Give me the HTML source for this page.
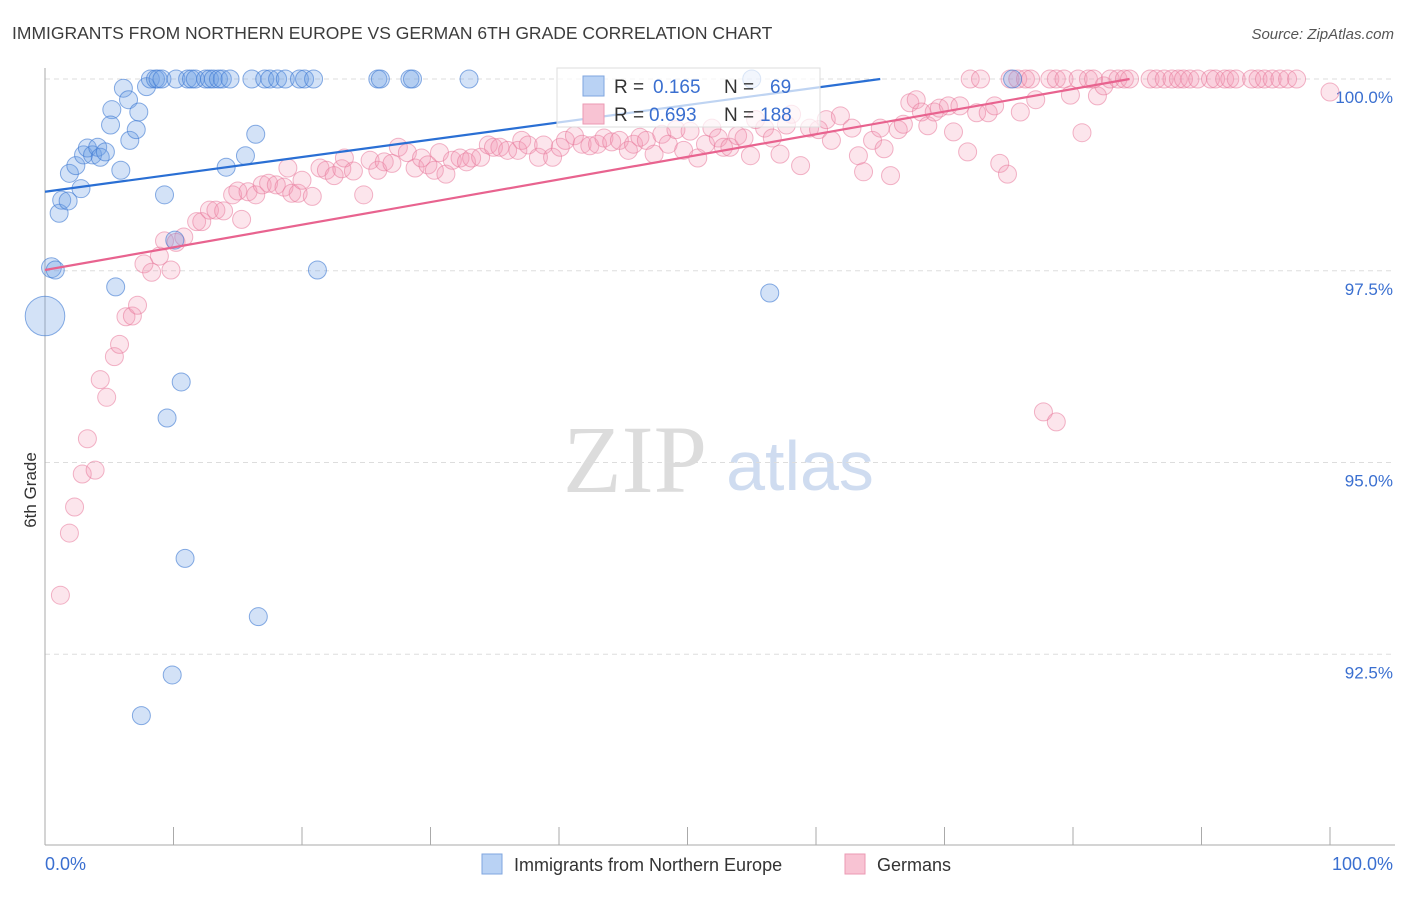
<!DOCTYPE html>
<html><head><meta charset="utf-8"><style>
body{margin:0;background:#fff;font-family:"Liberation Sans",sans-serif}
svg text{font-family:"Liberation Sans",sans-serif}
</style></head><body>
<svg id="c" width="1406" height="892" xmlns="http://www.w3.org/2000/svg">
<text x="12" y="39" font-size="17.5" fill="#3c3c3c">IMMIGRANTS FROM NORTHERN EUROPE VS GERMAN 6TH GRADE CORRELATION CHART</text>
<text x="1394" y="39" font-size="15" fill="#555" text-anchor="end" font-style="italic">Source: ZipAtlas.com</text>
<g>
<text x="635" y="492" font-size="96" fill="#dcdcdc" text-anchor="middle" font-family="Liberation Serif,serif" style="font-family:'Liberation Serif',serif">ZIP</text>
<text x="800" y="490" font-size="70" fill="#cfdcf0" text-anchor="middle">atlas</text>
</g>
<g id="grid"></g>
<g id="axes"></g>
<g id="pts"></g>
<g id="lines"></g>
<text x="-490" y="36" transform="rotate(-90)" font-size="17" fill="#333" text-anchor="middle" transform-origin="0 0">6th Grade</text>
<g>
<rect x="557" y="68" width="263" height="59" fill="#fff" fill-opacity="0.7" stroke="#ddd"/>
<rect x="583" y="76" width="21" height="20" fill="#b9d2f4" stroke="#7fa6df"/>
<rect x="583" y="104" width="21" height="20" fill="#f8c3d3" stroke="#eb9ab3"/>
<text x="614" y="93" font-size="19" fill="#333">R =</text><text x="653" y="93" font-size="19" fill="#3a6fd0">0.165</text>
<text x="724" y="93" font-size="19" fill="#333">N =</text><text x="770" y="93" font-size="19" fill="#3a6fd0">69</text>
<text x="614" y="121" font-size="19" fill="#333">R =</text><text x="649" y="121" font-size="19" fill="#3a6fd0">0.693</text>
<text x="724" y="121" font-size="19" fill="#333">N =</text><text x="760" y="121" font-size="19" fill="#3a6fd0">188</text>
</g>
<g>
<rect x="482" y="854" width="20" height="20" fill="#b9d2f4" stroke="#7fa6df"/>
<text x="514" y="871" font-size="18" fill="#333">Immigrants from Northern Europe</text>
<rect x="845" y="854" width="20" height="20" fill="#f8c3d3" stroke="#eb9ab3"/>
<text x="877" y="871" font-size="18" fill="#333">Germans</text>
</g>
</svg>
<script>
const yTicks=[100,97.5,95,92.5];
const yTickLabels=["100.0%","97.5%","95.0%","92.5%"];
const xEndLabels=["0.0%","100.0%"];
const blueX=[0.5,0,0.8,1.1,1.3,1.8,1.9,2.4,2.8,3.0,3.3,3.7,4.1,4.3,4.7,5.2,5.1,6.1,6.5,6.6,7.1,7.3,5.9,7.9,8.2,8.6,8.8,9.1,10.2,11.1,11.4,11.7,12.5,12.8,13.1,13.5,13.8,14.4,16.1,17.1,17.5,18.1,18.7,19.8,20.2,20.9,25.9,26.1,28.4,28.6,33.0,55.0,75.3,9.3,10.1,15.6,14.1,16.4,5.5,21.2,10.6,9.5,10.9,16.6,9.9,7.5,56.4];
const blueY=[97.54,96.91,97.51,98.25,98.42,98.41,98.77,98.87,98.57,99.01,99.10,99.01,99.11,98.98,99.05,99.60,99.40,99.88,99.73,99.20,99.34,99.57,98.81,99.90,100,100,100,100,100,100,100,100,100,100,100,100,100,100,100,100,100,100,100,100,100,100,100,100,100,100,100,100,100,98.49,97.90,99.00,98.85,99.28,97.29,97.51,96.05,95.58,93.75,92.99,92.23,91.70,97.21];
const blueSize=[1.1,2.2];
const pinkX=[1.2,1.9,2.3,2.9,3.9,3.3,4.3,4.8,5.4,5.8,6.3,6.8,7.2,7.7,8.3,8.9,9.8,9.3,10.2,10.8,11.8,12.2,12.8,13.3,13.9,15.3,14.6,15.0,15.8,16.4,16.9,17.4,18.0,18.6,19.2,19.7,20.0,20.8,18.9,21.4,21.9,22.5,23.1,23.3,24.0,24.8,25.3,25.9,26.4,27.0,27.5,28.2,28.8,29.3,29.8,30.3,30.7,31.2,31.7,32.3,32.8,33.2,33.9,34.5,34.9,35.4,36.0,36.8,37.1,37.6,38.4,38.8,39.5,40.1,40.5,41.2,41.8,42.4,43.0,43.5,44.1,44.7,45.4,45.8,46.3,46.8,47.4,48.0,48.5,49.1,49.7,50.2,50.8,51.4,51.9,52.4,52.8,53.3,53.9,54.4,54.9,55.3,56.0,56.6,57.2,57.7,58.1,58.8,59.5,60.2,60.8,61.2,61.9,62.8,63.3,63.7,64.4,65.0,65.3,65.8,66.4,66.8,67.3,67.8,68.2,68.7,69.2,69.6,70.3,70.7,71.2,71.8,72.5,73.4,73.9,74.3,74.9,75.9,77.1,77.7,78.7,79.8,80.7,81.9,82.4,100,
72.0,72.8,75.1,75.7,76.3,76.7,78.2,78.7,79.3,80.4,81.2,81.6,82.9,83.5,84.0,84.4,86.0,86.5,87.1,87.7,88.2,88.6,89.1,89.7,90.7,91.1,91.8,92.2,92.7,93.9,94.4,94.9,95.5,96.1,96.7,97.4];
const pinkY=[93.27,94.08,94.42,94.85,94.90,95.31,96.08,95.85,96.38,96.54,96.90,96.91,97.05,97.59,97.48,97.69,97.51,97.89,97.87,97.94,98.14,98.14,98.29,98.29,98.28,98.17,98.49,98.54,98.53,98.49,98.62,98.64,98.62,98.59,98.51,98.51,98.68,98.47,98.84,98.84,98.81,98.74,98.83,98.97,98.80,98.49,98.94,98.81,98.92,98.90,99.11,99.04,98.84,98.97,98.88,98.81,99.04,98.76,98.94,98.97,98.92,98.97,98.98,99.14,99.11,99.11,99.07,99.07,99.20,99.14,98.98,99.14,98.98,99.11,99.20,99.26,99.15,99.13,99.15,99.23,99.18,99.20,99.07,99.15,99.24,99.20,99.02,99.28,99.15,99.34,99.07,99.32,98.97,99.15,99.36,99.23,99.11,99.11,99.26,99.23,99.00,99.47,99.36,99.23,99.02,99.40,99.54,98.87,99.36,99.34,99.47,99.20,99.52,99.36,99.00,98.79,99.20,99.36,99.09,98.74,99.34,99.41,99.69,99.73,99.57,99.39,99.57,99.62,99.65,99.31,99.65,99.05,99.56,99.56,99.65,98.90,98.76,99.57,99.73,95.66,95.53,99.79,99.30,99.78,99.91,99.83,
100,100,100,100,100,100,100,100,100,100,100,100,100,100,100,100,100,100,100,100,100,100,100,100,100,100,100,100,100,100,100,100,100,100,100,100];
const blueTrend=[98.53,100]; const blueTrendX=[0,65];
const pinkTrend=[97.51,100]; const pinkTrendX=[0,84.4];
const NS='http://www.w3.org/2000/svg';
const X0=45,X1=1330,YT=79,YB=845;
function xs(v){return X0+(X1-X0)*v/100;}
function ys(v){return YT+(100-v)*76.7;}
function mk(tag,parent,attrs){const e=document.createElementNS(NS,tag);for(const k in attrs)e.setAttribute(k,attrs[k]);document.getElementById(parent).appendChild(e);return e;}
yTicks.forEach((t,i)=>{
 const g=mk('line','grid',{x1:X0,x2:1395,y1:ys(t),y2:ys(t),stroke:'#ddd','stroke-dasharray':'5,4'});
 
 
 const l=mk('text','axes',{x:1393,y:ys(t)+24,'font-size':17,fill:'#3a6fd0','text-anchor':'end'});
 l.textContent=yTickLabels[i];
 
 
});
const ax=mk('line','axes',{x1:X0,x2:X0,y1:68,y2:YB,stroke:'#aaa'});


const bx=mk('line','axes',{x1:X0,x2:1395,y1:YB,y2:YB,stroke:'#aaa'});


for(let i=0;i<=10;i++){const t=mk('line','axes',{x1:xs(i*10),x2:xs(i*10),y1:YB,y2:827,stroke:'#aaa'});
 
 }
const xl0=mk('text','axes',{x:45,y:870,'font-size':18,fill:'#3a6fd0'});xl0.textContent=xEndLabels[0];


const xl1=mk('text','axes',{x:1393,y:870,'font-size':18,fill:'#3a6fd0','text-anchor':'end'});xl1.textContent=xEndLabels[1];


pinkX.forEach((x,i)=>{const c=mk('circle','pts',{cx:xs(x),cy:ys(pinkY[i]),r:9,fill:'rgba(244,150,178,0.25)',stroke:'rgba(232,120,155,0.55)'});
 
 });
blueX.forEach((x,i)=>{const s=i<blueSize.length?blueSize[i]:1;const c=mk('circle','pts',{cx:xs(x),cy:ys(blueY[i]),r:9*s,fill:'rgba(110,160,230,0.3)',stroke:'rgba(60,120,210,0.6)'});
 
 });
const bl=mk('line','lines',{x1:xs(blueTrendX[0]),y1:ys(blueTrend[0]),x2:xs(blueTrendX[1]),y2:ys(blueTrend[1]),stroke:'#2a6fd4','stroke-width':2.2});


const pl=mk('line','lines',{x1:xs(pinkTrendX[0]),y1:ys(pinkTrend[0]),x2:xs(pinkTrendX[1]),y2:ys(pinkTrend[1]),stroke:'#e8638f','stroke-width':2.2});


</script>
</body></html>
